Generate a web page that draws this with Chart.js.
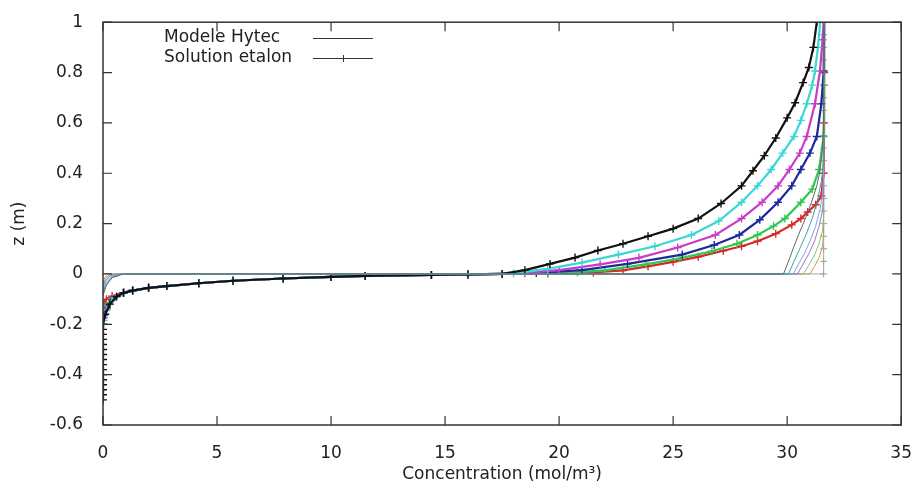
<!DOCTYPE html>
<html>
<head>
<meta charset="utf-8">
<script src="https://cdn.jsdelivr.net/npm/chart.js@4.4.1/dist/chart.umd.min.js"></script>
<style>
  html, body { margin: 0; padding: 0; background: #fff; }
  canvas { display: block; }
</style>
</head>
<body>
<canvas id="chart" width="922" height="493"></canvas>
<script>
"use strict";

// axis ticks
const xTicks = [0, 5, 10, 15, 20, 25, 30, 35];
const yTicks = [-0.6, -0.4, -0.2, 0, 0.2, 0.4, 0.6, 0.8, 1];

// [concentration, z]
// lower part shared by all the marked curves once they have merged
const lowerTail = [[0.9,-0.075],[1.3,-0.066],[2.0,-0.055],[2.8,-0.048],[4.2,-0.037],[5.7,-0.027],
  [7.9,-0.018],[10.0,-0.012],[11.5,-0.008],[14.4,-0.004],[16.0,-0.002],[17.5,0]];

const redLow = [[0.05,-0.115],[0.15,-0.1],[0.4,-0.088]];
const redUp = [[19.5,0.002],[21.5,0.006],[22.8,0.014],[23.9,0.03],[25.0,0.048],[26.1,0.068],[27.2,0.092],
  [28.0,0.11],[28.7,0.13],[29.5,0.16],[30.2,0.195],[30.6,0.22],[30.9,0.246],[31.25,0.275],[31.5,0.31],
  [31.6,0.4],[31.62,0.6],[31.62,0.8],[31.62,1.0]];

const greenLow = [[0.03,-0.15],[0.15,-0.125],[0.4,-0.098]];
const greenUp = [[19.5,0.003],[20.8,0.007],[22.0,0.014],[23.8,0.038],[25.3,0.062],[26.7,0.09],[27.8,0.12],
  [28.7,0.155],[29.4,0.19],[29.9,0.22],[30.6,0.285],[31.1,0.337],[31.4,0.415],[31.6,0.546],[31.62,0.75],[31.62,1.0]];

const blueLow = [[0.03,-0.165],[0.15,-0.135],[0.4,-0.102]];
const blueUp = [[19.0,0.004],[21.0,0.015],[23.0,0.04],[25.4,0.077],[26.8,0.115],[27.9,0.155],[28.8,0.215],
  [29.6,0.285],[30.2,0.35],[30.6,0.415],[31.0,0.48],[31.3,0.546],[31.5,0.676],[31.6,0.806],[31.62,1.0]];

const magentaLow = [[0.03,-0.175],[0.15,-0.14],[0.4,-0.105]];
const magentaUp = [[18.5,0.003],[20.0,0.015],[21.8,0.038],[23.5,0.064],[25.2,0.105],[26.85,0.155],[28.0,0.22],
  [28.9,0.285],[29.6,0.35],[30.1,0.415],[30.55,0.48],[30.86,0.546],[31.22,0.676],[31.44,0.806],[31.55,0.93],[31.6,1.0]];

const cyanLow = [[0.02,-0.185],[0.15,-0.145],[0.4,-0.107]];
const cyanUp = [[18.0,0.002],[19.5,0.02],[21.0,0.045],[22.6,0.077],[24.2,0.11],[25.8,0.155],[27.0,0.21],
  [28.0,0.285],[28.7,0.35],[29.3,0.415],[29.8,0.48],[30.3,0.546],[30.6,0.61],[30.86,0.676],[31.1,0.75],
  [31.22,0.806],[31.35,0.9],[31.45,1.0]];

const blackLow = [[0,-0.5],[0,-0.48],[0,-0.46],[0,-0.44],[0,-0.42],[0,-0.4],[0,-0.38],[0,-0.36],[0,-0.34],
  [0,-0.32],[0,-0.3],[0,-0.28],[0,-0.26],[0,-0.24],[0,-0.22],[0.02,-0.2],[0.1,-0.16],[0.3,-0.12],[0.6,-0.09]];
const blackUp = [[18.5,0.015],[19.6,0.04],[20.7,0.065],[21.7,0.093],[22.8,0.12],[23.9,0.15],[25.0,0.18],
  [26.1,0.22],[27.1,0.28],[28.0,0.35],[28.5,0.41],[29.0,0.47],[29.5,0.54],[30.0,0.62],[30.35,0.68],
  [30.7,0.76],[30.95,0.82],[31.15,0.9],[31.3,1.0]];

// starting state: gray line and markers
const initLine = [[0,0],[31.6,0],[31.6,1]];
const initMarks = [[31.6,0],[31.6,0.05],[31.6,0.1],[31.6,0.15],[31.6,0.2],[31.6,0.25],[31.6,0.3],[31.6,0.35],
  [31.6,0.4],[31.6,0.45],[31.6,0.5],[31.6,0.55],[31.6,0.6],[31.6,0.65],[31.6,0.7],[31.6,0.75],[31.6,0.8],
  [31.6,0.85],[31.6,0.9],[31.6,0.95],[31.6,1.0]];

// thin model curves
const hytecDark = [[0,-0.085],[0.15,-0.045],[0.4,-0.015],[0.9,0],[29.84,0],[30.1,0.06],[30.3,0.11],[30.5,0.156],
  [30.8,0.22],[31.07,0.285],[31.3,0.35],[31.45,0.414],[31.55,0.5],[31.6,0.6],[31.6,1.0]];
const hytecTeal = [[0,-0.075],[0.15,-0.038],[0.4,-0.012],[0.8,0],[30.06,0],[30.3,0.05],[30.55,0.1],[30.8,0.15],
  [31.1,0.22],[31.35,0.3],[31.5,0.37],[31.6,0.45],[31.6,1.0]];
const hytecLightBlue = [[0,-0.065],[0.12,-0.032],[0.35,-0.01],[0.7,0],[30.27,0],[30.5,0.04],[30.75,0.08],
  [31.0,0.13],[31.25,0.19],[31.45,0.26],[31.55,0.32],[31.6,0.4],[31.6,1.0]];
const hytecPurple = [[0,-0.055],[0.1,-0.027],[0.3,-0.008],[0.6,0],[30.46,0],[30.7,0.04],[30.95,0.08],
  [31.2,0.13],[31.4,0.19],[31.55,0.25],[31.6,0.32],[31.6,1.0]];
const hytecGreen = [[0,-0.045],[0.1,-0.02],[0.25,-0.006],[0.5,0],[30.71,0],[30.95,0.035],[31.2,0.075],
  [31.4,0.12],[31.55,0.17],[31.6,0.23],[31.6,1.0]];
const hytecOrange = [[0,-0.035],[0.08,-0.015],[0.2,-0.004],[0.4,0],[31.0,0],[31.2,0.03],[31.4,0.065],
  [31.55,0.11],[31.6,0.16],[31.6,1.0]];

const FONT = "'DejaVu Sans', sans-serif";

function toXY(pairs) {
  return pairs.map(p => ({x: p[0], y: p[1]}));
}

function etalon(color, pairs, order) {
  return {
    data: toXY(pairs),
    showLine: true,
    borderColor: color,
    borderWidth: 2.2,
    pointStyle: 'cross',
    pointRadius: 4,
    pointBorderWidth: 1.4,
    pointBorderColor: color,
    pointBackgroundColor: color,
    order: order
  };
}

function hytec(color, pairs, order) {
  return {
    data: toXY(pairs),
    showLine: true,
    borderColor: color,
    borderWidth: 1,
    pointRadius: 0,
    order: order
  };
}

const datasets = [
  hytec('#666666', hytecDark, 1),
  hytec('#3f9f9f', hytecTeal, 1),
  hytec('#78a8e0', hytecLightBlue, 1),
  hytec('#b070c8', hytecPurple, 1),
  hytec('#78c878', hytecGreen, 1),
  hytec('#d09858', hytecOrange, 1),
  etalon('#111111', blackLow.concat(lowerTail, blackUp), 2),
  etalon('#3cd6d6', cyanLow.concat(lowerTail, cyanUp), 3),
  etalon('#c83cc8', magentaLow.concat(lowerTail, magentaUp), 4),
  etalon('#1c2a9c', blueLow.concat(lowerTail, blueUp), 5),
  etalon('#30c84c', greenLow.concat(lowerTail, greenUp), 6),
  etalon('#d42a2a', redLow.concat(lowerTail, redUp), 7),
  {
    data: toXY(initMarks),
    showLine: false,
    pointStyle: 'cross',
    pointRadius: 3.5,
    pointBorderWidth: 1,
    pointBorderColor: '#a0a0a0',
    order: 8
  },
  hytec('#a8a8a8', initLine, 9)
];

// frame, inward ticks and key, drawn the gnuplot way
const framePlugin = {
  id: 'frame',
  afterDatasetsDraw(chart) {
    const ctx = chart.ctx;
    const a = chart.chartArea;
    const xs = chart.scales.x;
    const ys = chart.scales.y;
    const tl = 9;
    ctx.save();
    ctx.strokeStyle = '#333333';
    ctx.lineWidth = 1.5;
    ctx.strokeRect(a.left, a.top, a.right - a.left, a.bottom - a.top);
    ctx.lineWidth = 1.2;
    ctx.beginPath();
    xTicks.forEach(v => {
      const px = xs.getPixelForValue(v);
      ctx.moveTo(px, a.bottom); ctx.lineTo(px, a.bottom - tl);
      ctx.moveTo(px, a.top); ctx.lineTo(px, a.top + tl);
    });
    yTicks.forEach(v => {
      const py = ys.getPixelForValue(v);
      ctx.moveTo(a.left, py); ctx.lineTo(a.left + tl, py);
      ctx.moveTo(a.right, py); ctx.lineTo(a.right - tl, py);
    });
    ctx.stroke();

    // key
    ctx.font = '17px ' + FONT;
    ctx.fillStyle = '#222222';
    ctx.textBaseline = 'middle';
    ctx.textAlign = 'left';
    ctx.fillText('Modele Hytec', 164, 38);
    ctx.fillText('Solution etalon', 164, 58);
    ctx.strokeStyle = '#333333';
    ctx.lineWidth = 1;
    ctx.beginPath();
    ctx.moveTo(313, 38.5); ctx.lineTo(373, 38.5);
    ctx.moveTo(313, 58.5); ctx.lineTo(373, 58.5);
    ctx.moveTo(343.5, 55); ctx.lineTo(343.5, 62);
    ctx.stroke();
    ctx.restore();
  }
};

function init() {
  const context = document.getElementById('chart').getContext('2d');
  new Chart(context, {
    type: 'scatter',
    data: { datasets: datasets },
    options: {
      responsive: false,
      animation: false,
      devicePixelRatio: 1,
      layout: { padding: { top: 17, right: 19, bottom: 0, left: 0 } },
      plugins: { legend: { display: false }, tooltip: { enabled: false } },
      elements: { line: { tension: 0 } },
      scales: {
        x: {
          type: 'linear',
          min: 0, max: 35,
          afterBuildTicks: s => { s.ticks = xTicks.map(v => ({value: v})); },
          afterFit: s => { s.height = 68; },
          grid: { display: false },
          border: { display: false },
          ticks: { color: '#222', padding: 10, font: { family: FONT, size: 17 }, maxRotation: 0 },
          title: { display: true, text: 'Concentration (mol/m³)', color: '#222',
                   padding: { top: 0, bottom: 8 }, font: { family: FONT, size: 17 } }
        },
        y: {
          type: 'linear',
          min: -0.6, max: 1,
          afterBuildTicks: s => { s.ticks = yTicks.map(v => ({value: v})); },
          afterFit: s => { s.width = 103; },
          grid: { display: false },
          border: { display: false },
          ticks: { color: '#222', padding: 12, font: { family: FONT, size: 17 },
                   callback: v => String(Math.round(v * 10) / 10) },
          title: { display: true, text: 'z (m)', color: '#222',
                   padding: { top: 9, bottom: 0 }, font: { family: FONT, size: 17 } }
        }
      }
    },
    plugins: [framePlugin]
  });
}

init();
</script>
</body>
</html>
